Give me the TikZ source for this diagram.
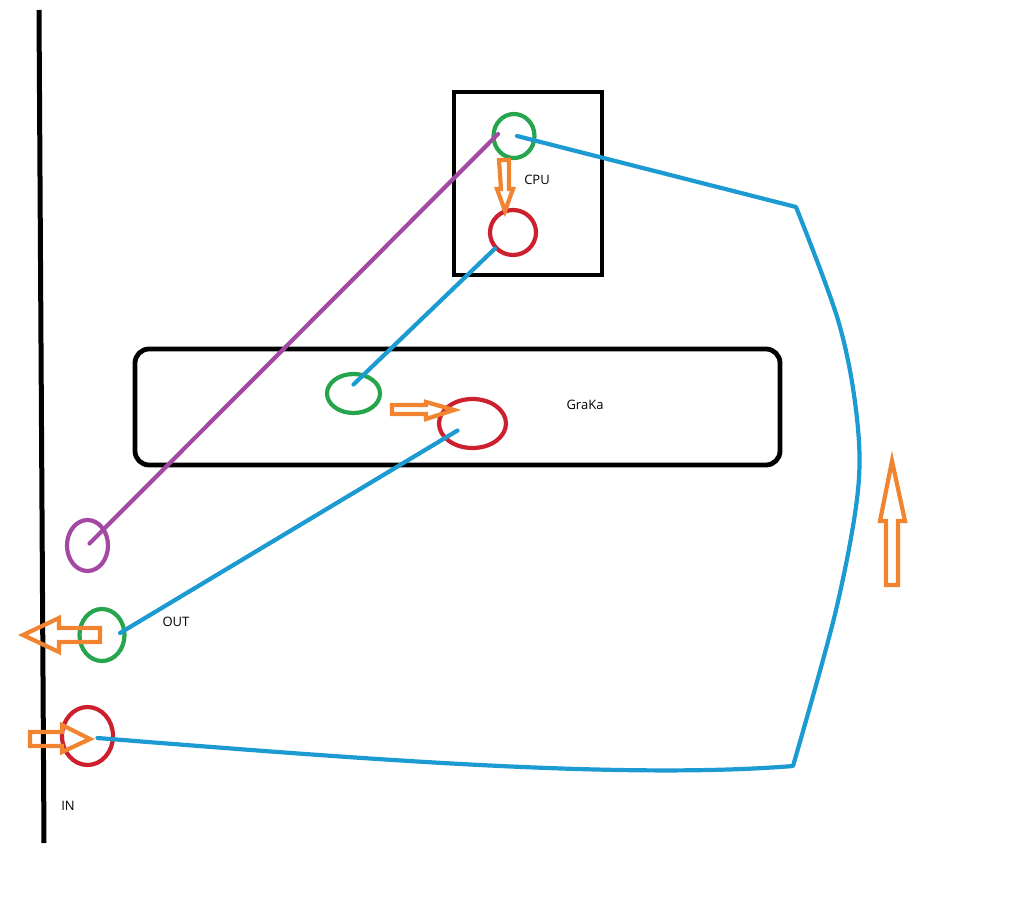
\documentclass[tikz,border=0pt]{standalone}
\usepackage{fontspec}
\setmainfont{Open Sans}
\usetikzlibrary{shapes.geometric,calc}
\definecolor{pgreen}{RGB}{38,165,76}
\definecolor{pred}{RGB}{205,32,46}
\definecolor{ppurple}{RGB}{163,73,164}
\definecolor{pblue}{RGB}{28,155,210}
\definecolor{porange}{RGB}{240,132,48}
\begin{document}
\begin{tikzpicture}[x=1pt,y=-1pt,
  ell/.style={ellipse,draw=#1,line width=4.2pt,inner sep=0pt},
  lbl/.style={inner sep=0pt,font=\fontsize{13}{15}\selectfont},
  bline/.style={draw=pblue,line width=4.2pt,line cap=round,line join=round},
  pline/.style={draw=ppurple,line width=4.2pt,line cap=round},
  oarrow/.style={draw=porange,line width=4.2pt,line join=miter},
  frame/.style={draw=black,line width=4.8pt}]
\useasboundingbox (0,0) rectangle (1019,920);
% wall line
\coordinate (wtop) at (39,10);
\coordinate (wbot) at (44,843);
\draw[line width=5pt] (wtop) -- (wbot);
% boxes
\node[frame,minimum width=148pt,minimum height=183pt,inner sep=0pt] (cpu) at (528,183.5) {};
\node[frame,rounded corners=14pt,minimum width=645pt,minimum height=116pt,inner sep=0pt] (graka) at (457.5,407) {};
% ellipses
\node[ell=pgreen,minimum width=41pt,minimum height=44pt] (cpuG) at (514,136) {};
\node[ell=pred,minimum width=46pt,minimum height=45pt] (cpuR) at (513,232.5) {};
\node[ell=pgreen,minimum width=53pt,minimum height=39pt] (gG) at (353.5,393.5) {};
\node[ell=pred,minimum width=67pt,minimum height=49pt] (gR) at (472.5,423.5) {};
\node[ell=ppurple,minimum width=41pt,minimum height=51pt] (pu) at (87.5,545.5) {};
\node[ell=pgreen,minimum width=45pt,minimum height=52pt] (outG) at (102,635) {};
\node[ell=pred,minimum width=51pt,minimum height=58pt] (inR) at (87.5,736) {};
% labels
\node[lbl] (tcpu) at (537,179.5) {CPU};
\node[lbl] (tgraka) at (585,405) {GraKa};
\node[lbl] (tout) at (176,622) {OUT};
\node[lbl] (tin) at (68,806) {IN};
% connectors
\draw[pline] ($(pu.center)+(2,-2)$) -- ($(cpuG.center)+(-16,-2)$);
\draw[bline] ($(gG.center)+(0,-9)$) -- ($(cpuR.center)+(-18,16)$);
\draw[bline] ($(outG.center)+(18,-2)$) -- ($(gR.center)+(-15,7)$);
\coordinate (c1) at (796,207);
\coordinate (c2) at (793,766);
\draw[bline] ($(cpuG.center)+(3,0)$) -- (c1)
  -- plot[smooth,tension=0.55] coordinates {(796,207) (838,320) (856,410) (858,490) (836,610) (793,766)}
  .. controls (620,780) and (350,758) .. ($(inR.center)+(10,2)$);
% orange arrows
\draw[oarrow] (499,160) -- (509,160) -- (509,189) -- (513,189) -- (505,211) -- (497,189) -- (501,189) -- cycle;
\draw[oarrow] (392,405) -- (426,405) -- (426,402) -- (454,410) -- (426,419) -- (426,414) -- (392,414) -- cycle;
\draw[oarrow] (100,628) -- (59,628) -- (59,618) -- (23,635) -- (59,652) -- (59,642) -- (100,642) -- cycle;
\draw[oarrow] (30,732) -- (62,732) -- (62,725) -- (90,739) -- (62,752) -- (62,746) -- (30,746) -- cycle;
\draw[oarrow] (886,585) -- (886,521) -- (880,521) -- (892,461) -- (905,521) -- (898,521) -- (898,585) -- cycle;
\end{tikzpicture}
\end{document}
